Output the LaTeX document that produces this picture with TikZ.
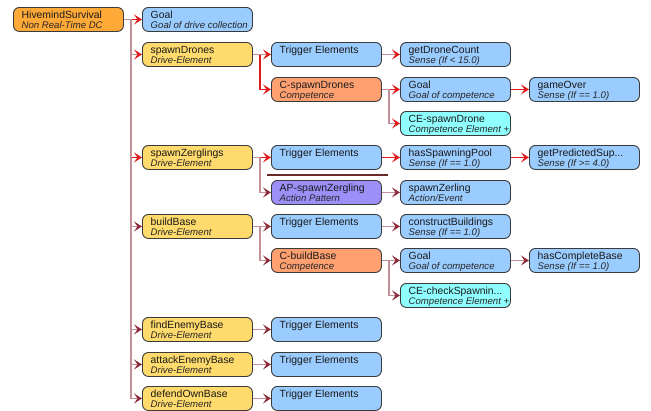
\documentclass[tikz,border=0pt]{standalone}
\usepackage{fontspec}
\setmainfont{Liberation Sans}
\usetikzlibrary{arrows.meta}
\definecolor{cOrange}{HTML}{FFAA38}
\definecolor{cYellow}{HTML}{FFDA6C}
\definecolor{cBlue}{HTML}{9ACCFF}
\definecolor{cSalmon}{HTML}{FFA070}
\definecolor{cPurple}{HTML}{9C90F8}
\definecolor{cCyan}{HTML}{90FFFF}
\definecolor{cBorder}{HTML}{3A3A3A}
\definecolor{cRed}{HTML}{E01A1A}
\definecolor{cPink}{HTML}{C49098}
\definecolor{cMaroon}{HTML}{8E2B3A}
\definecolor{cSep}{HTML}{6B2A2A}
\tikzset{
  x=1pt, y=1pt,
  pbx/.style={draw=cBorder, line width=0.9pt, rounded corners=6pt, anchor=north west,
    minimum width=110pt, minimum height=24pt, inner sep=0pt},
  ttl/.style={anchor=base west, inner sep=0pt, text=black!90, font=\fontsize{10.4}{12}\selectfont},
  sub/.style={anchor=base west, inner sep=0pt, text=black!85, font=\fontsize{9.6}{11}\selectfont\itshape},
  act/.style={draw=cRed, line width=1.2pt, -{Stealth[length=8pt,width=10pt,inset=3.5pt]}},
  semi/.style={draw=cPink, line width=1.6pt, -{Stealth[length=8pt,width=10pt,inset=3.5pt,color=cRed]}},
  inact/.style={draw=cPink, line width=1.6pt, -{Stealth[length=8pt,width=10pt,inset=3.5pt,color=cMaroon]}},
}
\newcommand\pbox[6]{%
  \node[pbx, fill=#4] (#1) at (#2,-#3) {};
  \node[ttl] (#1-t) at ({#2+8.5},{-#3-11.5}) {#5};
  \node[sub] (#1-s) at ({#2+8.5},{-#3-21.5}) {#6};
}
\newcommand\tbox[5]{%
  \node[pbx, fill=#4] (#1) at (#2,-#3) {};
  \node[ttl] (#1-t) at ({#2+8.5},{-#3-11.5}) {#5};
}
\begin{document}
\begin{tikzpicture}
\useasboundingbox[fill=white] (0,0) rectangle (651,-410);
% column 1
\pbox{root}{13}{7}{cOrange}{HivemindSurvival}{Non Real-Time DC}
% column 2
\pbox{g0}{142}{7}{cBlue}{Goal}{Goal of drive collection}
\pbox{d1}{142}{42}{cYellow}{spawnDrones}{Drive-Element}
\pbox{d2}{142}{145}{cYellow}{spawnZerglings}{Drive-Element}
\pbox{d3}{142}{214}{cYellow}{buildBase}{Drive-Element}
\pbox{d4}{142}{317}{cYellow}{findEnemyBase}{Drive-Element}
\pbox{d5}{142}{352}{cYellow}{attackEnemyBase}{Drive-Element}
\pbox{d6}{142}{386}{cYellow}{defendOwnBase}{Drive-Element}
% column 3
\tbox{t1}{271}{42}{cBlue}{Trigger Elements}
\pbox{c1}{271}{77}{cSalmon}{C-spawnDrones}{Competence}
\tbox{t2}{271}{145}{cBlue}{Trigger Elements}
\pbox{ap}{271}{180}{cPurple}{AP-spawnZergling}{Action Pattern}
\tbox{t3}{271}{214}{cBlue}{Trigger Elements}
\pbox{c2}{271}{248}{cSalmon}{C-buildBase}{Competence}
\tbox{t4}{271}{317}{cBlue}{Trigger Elements}
\tbox{t5}{271}{352}{cBlue}{Trigger Elements}
\tbox{t6}{271}{386}{cBlue}{Trigger Elements}
% column 4
\pbox{s1}{400}{42}{cBlue}{getDroneCount}{Sense (If < 15.0)}
\pbox{cg1}{400}{77}{cBlue}{Goal}{Goal of competence}
\pbox{ce1}{400}{111}{cCyan}{CE-spawnDrone}{Competence Element +}
\pbox{s2}{400}{145}{cBlue}{hasSpawningPool}{Sense (If == 1.0)}
\pbox{a1}{400}{180}{cBlue}{spawnZerling}{Action/Event}
\pbox{s3}{400}{214}{cBlue}{constructBuildings}{Sense (If == 1.0)}
\pbox{cg2}{400}{248}{cBlue}{Goal}{Goal of competence}
\pbox{ce2}{400}{283}{cCyan}{CE-checkSpawnin...}{Competence Element +}
% column 5
\pbox{s4}{529}{77}{cBlue}{gameOver}{Sense (If == 1.0)}
\pbox{s5}{529}{145}{cBlue}{getPredictedSup...}{Sense (If >= 4.0)}
\pbox{s6}{529}{248}{cBlue}{hasCompleteBase}{Sense (If == 1.0)}
% separator
\coordinate (sepA) at (267,-175);
\coordinate (sepB) at (388,-175);
\draw[cSep, line width=2pt] (sepA) -- (sepB);
% active edges
\draw[act] (root.east) -- (g0.west);
\draw[act] (root.east) -- ++(7,0) |- (d2.west);
\draw[act] (d1.east) -- ++(7,0) |- (c1.west);
\draw[act] (c1.east) -- ++(7,0) |- (cg1.west);
\draw[act] (cg1.east) -- (s4.west);
\draw[act] (d2.east) -- (t2.west);
\draw[act] (t2.east) -- (s2.west);
\draw[act] (s2.east) -- (s5.west);
% semi edges
\draw[semi] (root.east) -- ++(7,0) |- (d1.west);
\draw[semi] (d1.east) -- (t1.west);
\draw[semi] (t1.east) -- (s1.west);
\draw[semi] (c1.east) -- ++(7,0) |- (ce1.west);
% inactive edges
\draw[inact] (root.east) -- ++(7,0) |- (d3.west);
\draw[inact] (root.east) -- ++(7,0) |- (d4.west);
\draw[inact] (root.east) -- ++(7,0) |- (d5.west);
\draw[inact] (root.east) -- ++(7,0) |- (d6.west);
\draw[inact] (d2.east) -- ++(7,0) |- (ap.west);
\draw[inact] (ap.east) -- (a1.west);
\draw[inact] (d3.east) -- (t3.west);
\draw[inact] (d3.east) -- ++(7,0) |- (c2.west);
\draw[inact] (t3.east) -- (s3.west);
\draw[inact] (c2.east) -- (cg2.west);
\draw[inact] (c2.east) -- ++(7,0) |- (ce2.west);
\draw[inact] (cg2.east) -- (s6.west);
\draw[inact] (d4.east) -- (t4.west);
\draw[inact] (d5.east) -- (t5.west);
\draw[inact] (d6.east) -- (t6.west);
\end{tikzpicture}
\end{document}
